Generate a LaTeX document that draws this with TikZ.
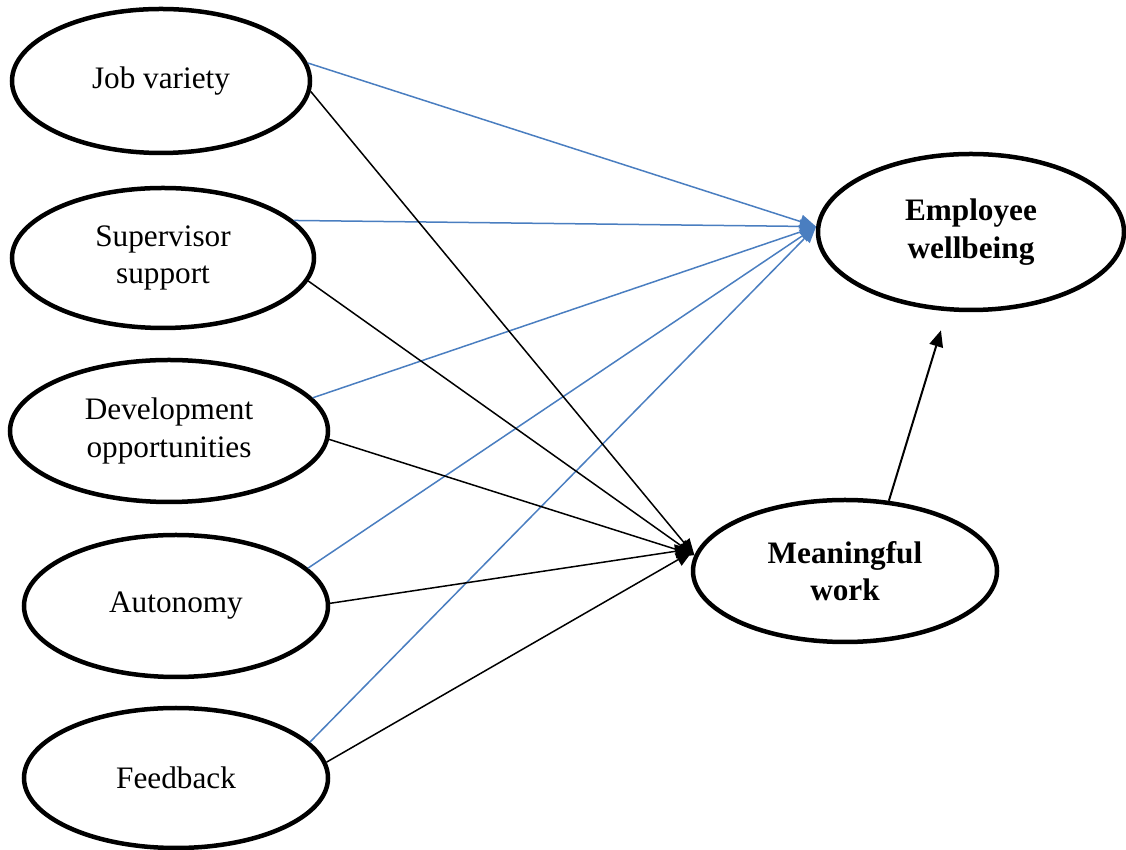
\documentclass[tikz,border=0pt]{standalone}
\usepackage{fontspec}
\setmainfont{Liberation Serif}
\usetikzlibrary{shapes.geometric,arrows.meta}
\definecolor{pathblue}{RGB}{74,126,192}
\begin{document}
\begin{tikzpicture}[x=0.4pt,y=-0.4pt,
  factor/.style={draw, ellipse, line width=1.8pt, inner sep=0pt, align=center,
    font=\fontsize{12.5}{15}\selectfont},
  outcome/.style={factor, font=\fontsize{12.5}{15}\selectfont\bfseries},
  direct/.style={draw=pathblue, line width=0.6pt, -{Triangle[length=6.5pt,width=5.5pt]}},
  viamw/.style={draw, line width=0.6pt, -{Triangle[length=6.5pt,width=5.5pt]}}]
\useasboundingbox (0,0) rectangle (1126,850);
\node[factor, minimum width=298*0.4pt, minimum height=144*0.4pt] (jv) at (161,81) {Job variety};
\node[factor, minimum width=302*0.4pt, minimum height=140*0.4pt] (ss) at (163,258) {Supervisor\\support};
\node[factor, minimum width=318*0.4pt, minimum height=142*0.4pt] (do) at (169,431) {Development\\opportunities};
\node[factor, minimum width=304*0.4pt, minimum height=142*0.4pt] (au) at (176,606) {Autonomy};
\node[factor, minimum width=304*0.4pt, minimum height=140*0.4pt] (fb) at (176,778) {Feedback};
\node[outcome, minimum width=306*0.4pt, minimum height=156*0.4pt] (ew) at (971,232) {Employee\\wellbeing};
\node[outcome, minimum width=304*0.4pt, minimum height=142*0.4pt] (mw) at (845,571) {Meaningful\\work};
% direct paths to wellbeing
\draw[direct] (jv.7) -- (ew.178);
\draw[direct] (ss.16) -- (ew.178);
\draw[direct] (do.13) -- (ew.178);
\draw[direct] (au.16) -- (ew.178);
\draw[direct] (fb.15) -- (ew.178);
% paths through meaningful work
\draw[viamw] (jv.-4) -- (mw.174);
\draw[viamw] (ss.-9) -- (mw.174);
\draw[viamw] (do.-3) -- (mw.174);
\draw[viamw, shorten >=3pt] (au.1) -- (mw.171);
\draw[viamw, shorten >=3pt] (fb.6) -- (mw.171);
\draw[line width=0.8pt, -{Triangle[length=6.5pt,width=5.5pt]}, shorten >=8pt] (mw.58) -- (ew.253);
\end{tikzpicture}
\end{document}
